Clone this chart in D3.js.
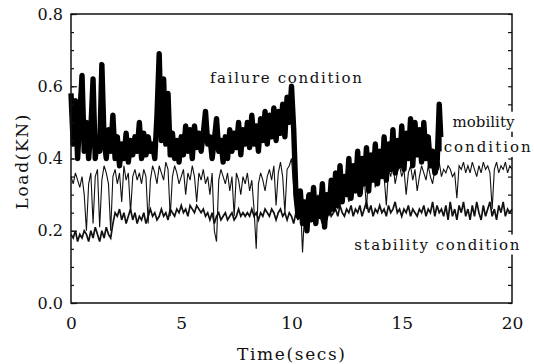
<!DOCTYPE html>
<html>
<head>
<meta charset="utf-8">
<script src="https://cdn.jsdelivr.net/npm/d3@7"></script>
<style>
body { margin: 0; background: #fff; }
</style>
</head>
<body>
<div id="chart"></div>
<script>
// sampling step of the recorded traces (secs)
var timeStep = 0.1;
var serif = "\"DejaVu Serif\", \"Liberation Serif\", serif";

var xTicks = [0, 5, 10, 15, 20];
var yTicks = [0.0, 0.2, 0.4, 0.6, 0.8];

// failure condition, 0 .. 16.8 s
var failure = [
	0.58,0.44,0.56,0.40,0.52,0.63,0.42,0.50,0.40,0.48,
	0.62,0.40,0.46,0.42,0.66,0.45,0.40,0.48,0.42,0.52,
	0.40,0.46,0.38,0.44,0.40,0.47,0.39,0.45,0.41,0.46,
	0.42,0.50,0.40,0.47,0.41,0.46,0.42,0.44,0.40,0.52,
	0.69,0.45,0.62,0.44,0.58,0.41,0.47,0.40,0.45,0.39,
	0.46,0.41,0.49,0.42,0.48,0.40,0.49,0.43,0.47,0.42,
	0.47,0.53,0.44,0.46,0.40,0.45,0.51,0.42,0.45,0.39,
	0.46,0.40,0.48,0.42,0.47,0.43,0.50,0.41,0.48,0.44,
	0.50,0.43,0.52,0.44,0.49,0.42,0.51,0.45,0.53,0.44,
	0.52,0.46,0.54,0.45,0.53,0.47,0.55,0.46,0.57,0.50,
	0.60,0.48,0.30,0.24,0.31,0.22,0.28,0.20,0.30,0.23,
	0.32,0.22,0.29,0.24,0.33,0.21,0.30,0.25,0.34,0.26,
	0.36,0.27,0.38,0.28,0.35,0.30,0.40,0.29,0.38,0.31,
	0.42,0.30,0.40,0.33,0.43,0.31,0.41,0.34,0.44,0.33,
	0.42,0.35,0.46,0.34,0.44,0.37,0.48,0.36,0.45,0.38,
	0.49,0.37,0.47,0.40,0.51,0.38,0.50,0.41,0.48,0.39,
	0.50,0.40,0.46,0.38,0.42,0.36,0.38,0.55,0.42
];

// mobility condition, 0 .. 20 s
var mobility = [
	0.35,0.33,0.36,0.34,0.32,0.35,0.30,0.20,0.33,0.36,
	0.22,0.35,0.37,0.21,0.34,0.38,0.36,0.33,0.20,0.35,
	0.37,0.33,0.36,0.28,0.38,0.34,0.36,0.25,0.35,0.37,
	0.34,0.36,0.33,0.37,0.35,0.22,0.34,0.38,0.36,0.33,
	0.38,0.36,0.34,0.39,0.37,0.24,0.35,0.38,0.36,0.33,
	0.35,0.37,0.30,0.36,0.34,0.38,0.35,0.28,0.36,0.34,
	0.37,0.33,0.35,0.30,0.36,0.20,0.17,0.34,0.37,0.35,
	0.33,0.36,0.31,0.35,0.24,0.36,0.34,0.30,0.35,0.33,
	0.36,0.31,0.34,0.26,0.15,0.33,0.36,0.34,0.31,0.35,
	0.37,0.34,0.38,0.27,0.36,0.39,0.35,0.25,0.37,0.38,
	0.40,0.32,0.27,0.23,0.29,0.14,0.26,0.30,0.24,0.28,
	0.27,0.25,0.30,0.26,0.22,0.29,0.27,0.24,0.31,0.28,
	0.30,0.26,0.33,0.29,0.35,0.31,0.28,0.34,0.32,0.36,
	0.33,0.37,0.30,0.35,0.26,0.36,0.34,0.38,0.32,0.36,
	0.34,0.38,0.35,0.27,0.37,0.35,0.39,0.33,0.36,0.38,
	0.35,0.37,0.30,0.36,0.38,0.34,0.37,0.31,0.35,0.38,
	0.36,0.34,0.38,0.35,0.33,0.37,0.36,0.39,0.35,0.37,
	0.36,0.38,0.37,0.35,0.36,0.29,0.38,0.37,0.39,0.36,
	0.38,0.36,0.39,0.37,0.35,0.38,0.36,0.39,0.37,0.38,
	0.36,0.26,0.37,0.39,0.36,0.38,0.37,0.39,0.36,0.38,
	0.37
];

// stability condition, 0 .. 20 s
var stability = [
	0.19,0.18,0.20,0.17,0.19,0.18,0.20,0.19,0.17,0.20,
	0.18,0.21,0.19,0.17,0.20,0.18,0.21,0.19,0.18,0.22,
	0.25,0.24,0.26,0.23,0.25,0.22,0.24,0.26,0.23,0.25,
	0.22,0.24,0.23,0.25,0.22,0.24,0.26,0.24,0.25,0.23,
	0.24,0.26,0.24,0.25,0.23,0.26,0.25,0.24,0.26,0.25,
	0.27,0.25,0.26,0.24,0.27,0.26,0.25,0.27,0.26,0.25,
	0.26,0.24,0.25,0.23,0.25,0.22,0.24,0.25,0.23,0.24,
	0.25,0.23,0.24,0.25,0.23,0.24,0.26,0.24,0.25,0.24,
	0.25,0.24,0.26,0.24,0.25,0.23,0.25,0.24,0.26,0.25,
	0.24,0.26,0.25,0.23,0.25,0.26,0.24,0.25,0.23,0.25,
	0.24,0.22,0.25,0.23,0.26,0.24,0.22,0.25,0.23,0.24,
	0.25,0.23,0.26,0.24,0.22,0.25,0.23,0.26,0.24,0.25,
	0.26,0.24,0.27,0.25,0.24,0.26,0.25,0.27,0.24,0.26,
	0.25,0.27,0.24,0.26,0.28,0.25,0.27,0.24,0.26,0.25,
	0.27,0.25,0.26,0.24,0.27,0.25,0.26,0.28,0.25,0.26,
	0.24,0.26,0.25,0.27,0.24,0.26,0.25,0.24,0.26,0.25,
	0.27,0.24,0.26,0.25,0.28,0.24,0.27,0.25,0.26,0.24,
	0.27,0.23,0.28,0.24,0.26,0.23,0.27,0.25,0.28,0.24,
	0.26,0.23,0.27,0.24,0.28,0.25,0.23,0.27,0.24,0.26,
	0.28,0.24,0.26,0.23,0.27,0.25,0.28,0.24,0.26,0.25,
	0.26
];

var labels = [
	{text: "failure condition", t: 6.3, v: 0.61, len: 152, clear: false},
	{text: "mobility", t: 17.3, v: 0.488, len: 62, clear: true},
	{text: "condition", t: 16.9, v: 0.418, len: 87, clear: true},
	{text: "stability condition", t: 12.85, v: 0.148, len: 165, clear: true}
];

var margin = {top: 14, right: 22, bottom: 61, left: 71},
	width = 534 - margin.left - margin.right,
	height = 364 - margin.top - margin.bottom;

var svg = d3.select("#chart").append("svg")
	.attr("width", 534)
	.attr("height", 364);

var g = svg.append("g")
	.attr("transform", "translate(" + margin.left + "," + margin.top + ")");

var x = d3.scaleLinear().domain([0, 20]).range([0, width]);
var y = d3.scaleLinear().domain([0, 0.8]).range([height, 0]);

function toPoints(arr) {
	return arr.map(function (v, i) { return [i * timeStep, v]; });
}

var line = d3.line()
	.x(d => x(d[0]))
	.y(d => y(d[1]));

// traces
g.append("path")
	.datum(toPoints(stability))
	.attr("fill", "none")
	.attr("stroke", "#111")
	.attr("stroke-width", 1.7)
	.attr("d", line);

g.append("path")
	.datum(toPoints(mobility))
	.attr("fill", "none")
	.attr("stroke", "#111")
	.attr("stroke-width", 1.1)
	.attr("d", line);

g.append("path")
	.datum(toPoints(failure))
	.attr("fill", "none")
	.attr("stroke", "#000")
	.attr("stroke-width", 5.4)
	.attr("stroke-linejoin", "round")
	.attr("d", line);

// frame
g.append("rect")
	.attr("width", width)
	.attr("height", height)
	.attr("fill", "none")
	.attr("stroke", "#111")
	.attr("stroke-width", 1.5);

var minorTicks = d3.range(0, 0.801, 0.05);

g.append("g")
	.call(d3.axisLeft(y).tickValues(minorTicks).tickSize(-3).tickFormat(""))
	.call(a => a.select(".domain").remove());
g.append("g")
	.call(d3.axisLeft(y).tickValues(yTicks).tickSize(-6).tickPadding(8).tickFormat(d3.format(".1f")))
	.call(a => a.select(".domain").remove())
	.selectAll("text")
	.style("font-family", serif)
	.style("font-size", "16px")
	.attr("fill", "#111");

g.append("g")
	.attr("transform", "translate(" + width + ",0)")
	.call(d3.axisRight(y).tickValues(minorTicks).tickSize(-4).tickFormat(""))
	.call(a => a.select(".domain").remove());

g.append("g")
	.attr("transform", "translate(0," + height + ")")
	.call(d3.axisBottom(x).tickValues(xTicks).tickSize(0).tickPadding(14))
	.call(a => a.select(".domain").remove())
	.selectAll("text")
	.style("font-family", serif)
	.style("font-size", "17px")
	.attr("fill", "#111");

g.selectAll(".tick line").attr("stroke", "#111").attr("stroke-width", 1.2);

// axis titles
svg.append("text")
	.attr("x", 291)
	.attr("y", 360)
	.attr("text-anchor", "middle")
	.style("font-family", serif)
	.style("font-size", "17px")
	.attr("textLength", 108)
	.attr("lengthAdjust", "spacing")
	.attr("fill", "#111")
	.text("Time(secs)");

svg.append("text")
	.attr("transform", "translate(28,162) rotate(-90)")
	.attr("text-anchor", "middle")
	.style("font-family", serif)
	.style("font-size", "17px")
	.attr("textLength", 95)
	.attr("lengthAdjust", "spacing")
	.attr("fill", "#111")
	.text("Load(KN)");

// annotations; the ones over the right border get a white patch behind them
var notes = g.selectAll(".note")
	.data(labels)
	.enter()
	.append("g")
	.attr("class", "note");

notes.append("text")
	.attr("x", d => x(d.t))
	.attr("y", d => y(d.v))
	.style("font-family", serif)
	.style("font-size", "15px")
	.attr("textLength", d => d.len)
	.attr("lengthAdjust", "spacing")
	.attr("fill", "#111")
	.text(d => d.text);

notes.filter(d => d.clear).each(function () {
	var box = d3.select(this).select("text").node().getBBox();
	d3.select(this).insert("rect", "text")
		.attr("x", box.x - 2)
		.attr("y", box.y - 1)
		.attr("width", box.width + 4)
		.attr("height", box.height + 2)
		.attr("fill", "#fff");
});
</script>
</body>
</html>
